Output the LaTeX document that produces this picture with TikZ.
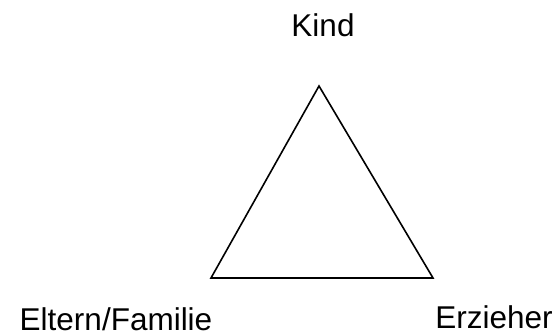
\documentclass[tikz,border=0pt]{standalone}
\usepackage{fontspec}
\setmainfont{Liberation Sans}
\usetikzlibrary{positioning}

\begin{document}
\begin{tikzpicture}[
    x=1pt, y=-1pt,
    label/.style={inner sep=0pt, anchor=base, font=\fontsize{31.5}{36}\selectfont},
    edge/.style={draw=black, line width=1.6pt, line join=miter}
]
    \useasboundingbox (0,0) rectangle (556,336);
    \coordinate (top) at (319,86);
    \coordinate (left) at (211,278);
    \coordinate (right) at (433,278);

    \node[label] (kind) at (323,37) {Kind};
    \node[label] (eltern) at (116,330) {Eltern/Familie};
    \node[label] (erzieher) at (494,328) {Erzieher};

    \draw[edge] (top) -- (right) -- (left) -- cycle;
\end{tikzpicture}
\end{document}
